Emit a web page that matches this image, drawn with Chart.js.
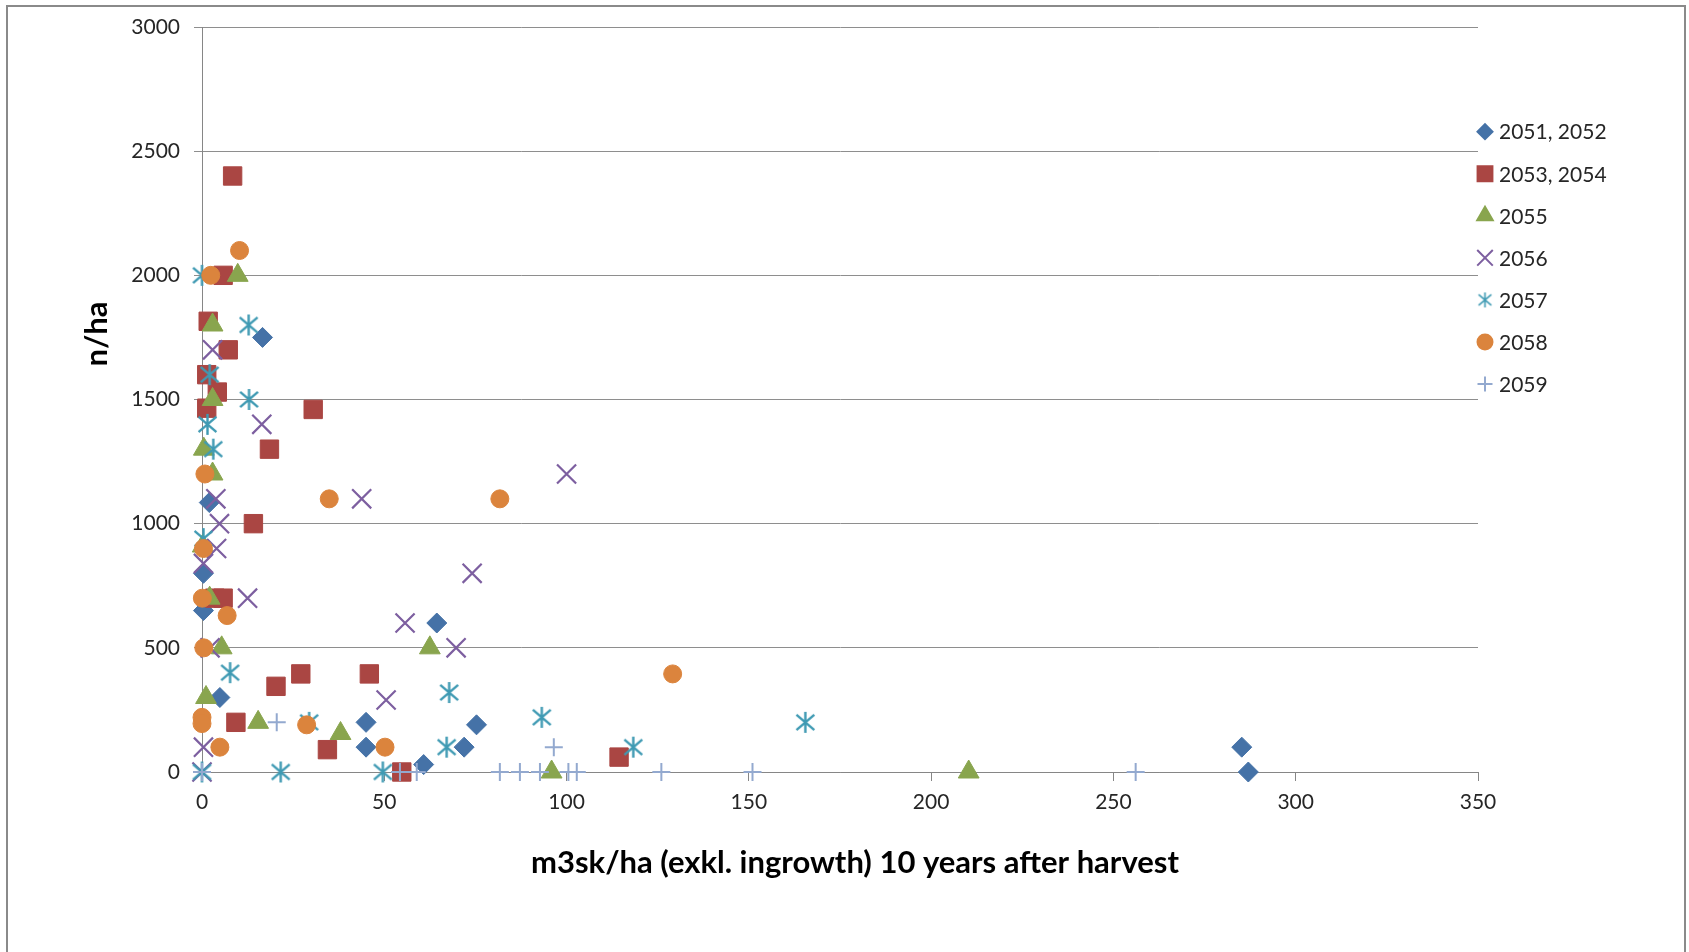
<!DOCTYPE html>
<html><head><meta charset="utf-8">
<script src="https://cdn.jsdelivr.net/npm/chart.js@4/dist/chart.umd.min.js"></script>
<style>
html,body{margin:0;padding:0;background:#fff;overflow:hidden;}
#wrap{position:relative;width:1689px;height:952px;overflow:hidden;}
#frame{position:absolute;left:6px;top:5px;width:1680px;height:1000px;border:2px solid #8a8a8a;box-sizing:border-box;}
canvas{position:absolute;left:0;top:0;}
</style></head><body>
<div id="wrap"><div id="frame"></div><canvas id="c" width="1689" height="952"></canvas></div>
<script>
// ---- data ----
const seriesNames = ['2051, 2052', '2053, 2054', '2055', '2056', '2057', '2058', '2059'];
const xTitle = 'm3sk/ha (exkl. ingrowth) 10 years after harvest';
const yTitle = 'n/ha';
const xTicks = [0, 50, 100, 150, 200, 250, 300, 350];
const yTicks = [0, 500, 1000, 1500, 2000, 2500, 3000];

const x2051 = [16.6, 2.0, 0.4, 0.4, 4.9, 64.4, 45.0, 75.3, 45.0, 71.9, 60.8, 285.2, 287.0];
const y2051 = [1750, 1085, 800, 650, 300, 600, 200, 190, 100, 100, 30, 100, 0];

const x2053 = [8.4, 5.8, 1.7, 7.2, 1.3, 4.2, 1.3, 30.5, 18.5, 14.1, 3.5, 5.8, 20.3, 27.1, 45.9, 9.3, 34.4, 54.8, 114.4];
const y2053 = [2400, 2000, 1815, 1700, 1600, 1530, 1465, 1460, 1300, 1000, 700, 700, 345, 395, 395, 200, 90, 0, 60];

const x2055 = [9.8, 2.9, 2.9, 0.5, 2.9, 0.2, 2.1, 5.4, 1.1, 15.4, 38.0, 62.5, 95.9, 210.3];
const y2055 = [2000, 1800, 1500, 1300, 1200, 910, 700, 500, 300, 200, 155, 500, 0, 0];

const x2056 = [2.9, 16.4, 3.8, 4.8, 4.0, 0.4, 12.5, 2.2, 0.4, 0, 43.8, 100.0, 74.1, 55.7, 69.7, 50.5];
const y2056 = [1700, 1400, 1100, 1000, 900, 840, 700, 500, 100, 0, 1100, 1200, 800, 600, 500, 290];

const x2057 = [0, 12.8, 2.1, 12.9, 1.5, 3.1, 0.4, 7.7, 29.4, 0, 21.6, 49.6, 67.8, 67.1, 93.2, 118.3, 165.5];
const y2057 = [2000, 1800, 1600, 1500, 1400, 1300, 940, 400, 200, 0, 0, 0, 320, 100, 220, 100, 200];

const x2058 = [10.3, 2.4, 0.8, 0.4, 0.1, 6.9, 0.5, 0, 0, 4.9, 28.7, 34.9, 81.7, 50.2, 129.1];
const y2058 = [2100, 2000, 1200, 900, 700, 630, 500, 220, 195, 100, 190, 1100, 1100, 100, 395];

const x2059 = [0, 20.5, 54.3, 58.9, 81.7, 87.2, 92.7, 96.5, 100.5, 102.8, 126.0, 151.0, 256.1];
const y2059 = [0, 200, 0, 0, 0, 0, 0, 100, 0, 0, 0, 0, 0];

const seriesX = [x2051, x2053, x2055, x2056, x2057, x2058, x2059];
const seriesY = [y2051, y2053, y2055, y2056, y2057, y2058, y2059];

// ---- styles ----
const colors = ['#4572A7', '#AA4643', '#89A54E', '#7D5FA0', '#3F9AB3', '#DB843D', '#93A9CF'];
const textColor = '#262626';
const axisColor = '#868686';
const gridColor = '#8e8e8e';

function makeStar(size, color, lw) {
  const c = document.createElement('canvas');
  c.width = size; c.height = size;
  const g = c.getContext('2d');
  g.strokeStyle = color; g.lineWidth = lw;
  const m = size / 2, h = size / 2 - 1, w = h * 0.85, d = h * 0.72;
  g.beginPath();
  g.moveTo(m, m - h); g.lineTo(m, m + h);
  g.moveTo(m - w, m - d); g.lineTo(m + w, m + d);
  g.moveTo(m + w, m - d); g.lineTo(m - w, m + d);
  g.stroke();
  return c;
}

const starBig = makeStar(23, colors[4], 2.4);
const starSmall = makeStar(17, colors[4], 1.6);

const markerStyles = [
  { pointStyle: 'rectRot', pointRadius: 10, pointBorderWidth: 1 },
  { pointStyle: 'rect', pointRadius: 13, pointBorderWidth: 1 },
  { pointStyle: 'triangle', pointRadius: 12, pointBorderWidth: 1 },
  { pointStyle: 'crossRot', pointRadius: 13.5, pointBorderWidth: 2.2 },
  { pointStyle: starBig, pointRadius: 11, pointBorderWidth: 2 },
  { pointStyle: 'circle', pointRadius: 9, pointBorderWidth: 1 },
  { pointStyle: 'cross', pointRadius: 9, pointBorderWidth: 2 }
];
const legendStyles = [
  { pointStyle: 'rectRot', radius: 7.5, borderWidth: 1 },
  { pointStyle: 'rect', radius: 10.5, borderWidth: 1 },
  { pointStyle: 'triangle', radius: 9, borderWidth: 1 },
  { pointStyle: 'crossRot', radius: 11, borderWidth: 1.6 },
  { pointStyle: starSmall, radius: 8, borderWidth: 1.6 },
  { pointStyle: 'circle', radius: 7.5, borderWidth: 1 },
  { pointStyle: 'cross', radius: 7.5, borderWidth: 1.6 }
];

const datasets = seriesNames.map((name, i) => Object.assign({
  label: name,
  data: seriesX[i].map((x, k) => ({ x: x, y: seriesY[i][k] })),
  showLine: false,
  clip: false,
  backgroundColor: colors[i],
  borderColor: colors[i],
  pointBackgroundColor: colors[i],
  pointBorderColor: colors[i],
  order: seriesNames.length - i
}, markerStyles[i]));

const decor = {
  id: 'decor',
  afterDraw(chart) {
    const ctx = chart.ctx;
    const area = chart.chartArea;
    ctx.save();
    ctx.fillStyle = '#000';
    ctx.font = 'bold 31px Lato';
    ctx.textAlign = 'center';
    ctx.textBaseline = 'middle';
    ctx.fillText(xTitle, 855, 863);
    ctx.save();
    ctx.translate(97, 334);
    ctx.rotate(-Math.PI / 2);
    ctx.fillText(yTitle, 0, 0);
    ctx.restore();
    // legend
    const lx = area.right + 7, tx = area.right + 21;
    const y0 = 131.7, dy = 42.05;
    ctx.font = '21px Lato';
    ctx.textAlign = 'left';
    seriesNames.forEach((name, i) => {
      const y = y0 + dy * i;
      ctx.fillStyle = colors[i];
      ctx.strokeStyle = colors[i];
      const st = legendStyles[i];
      Chart.helpers.drawPoint(ctx, { pointStyle: st.pointStyle, radius: st.radius, borderWidth: st.borderWidth, rotation: 0 }, lx, y);
      ctx.fillStyle = textColor;
      ctx.fillText(name, tx, y + 1);
    });
    ctx.restore();
  }
};

function build() {
  new Chart(document.getElementById('c'), {
    type: 'scatter',
    data: { datasets: datasets },
    options: {
      responsive: false,
      animation: false,
      devicePixelRatio: 1,
      events: [],
      layout: { padding: { left: 0, top: 27, right: 211, bottom: 0 } },
      plugins: { legend: { display: false }, tooltip: { enabled: false } },
      scales: {
        x: {
          type: 'linear', min: xTicks[0], max: xTicks[xTicks.length - 1],
          afterBuildTicks(s) { s.ticks = xTicks.map(v => ({ value: v })); },
          afterFit(s) { s.height = 180; },
          ticks: { font: { family: 'Lato', size: 21 }, color: textColor, padding: 9, callback: v => String(v) },
          grid: { drawOnChartArea: false, drawTicks: true, tickLength: 9, color: axisColor, lineWidth: 1 },
          border: { display: true, color: axisColor, width: 1 }
        },
        y: {
          type: 'linear', min: yTicks[0], max: yTicks[yTicks.length - 1],
          afterBuildTicks(s) { s.ticks = yTicks.map(v => ({ value: v })); },
          afterFit(s) { s.width = 202; },
          ticks: { font: { family: 'Lato', size: 21 }, color: textColor, padding: 14, callback: v => String(v) },
          grid: { drawOnChartArea: true, drawTicks: true, tickLength: 8, color: gridColor, lineWidth: 1 },
          border: { display: true, color: axisColor, width: 1 }
        }
      }
    },
    plugins: [decor]
  });
}

Promise.all([
  document.fonts.load('21px Lato'),
  document.fonts.load('bold 31px Lato')
]).then(build, build);
</script>
</body></html>
